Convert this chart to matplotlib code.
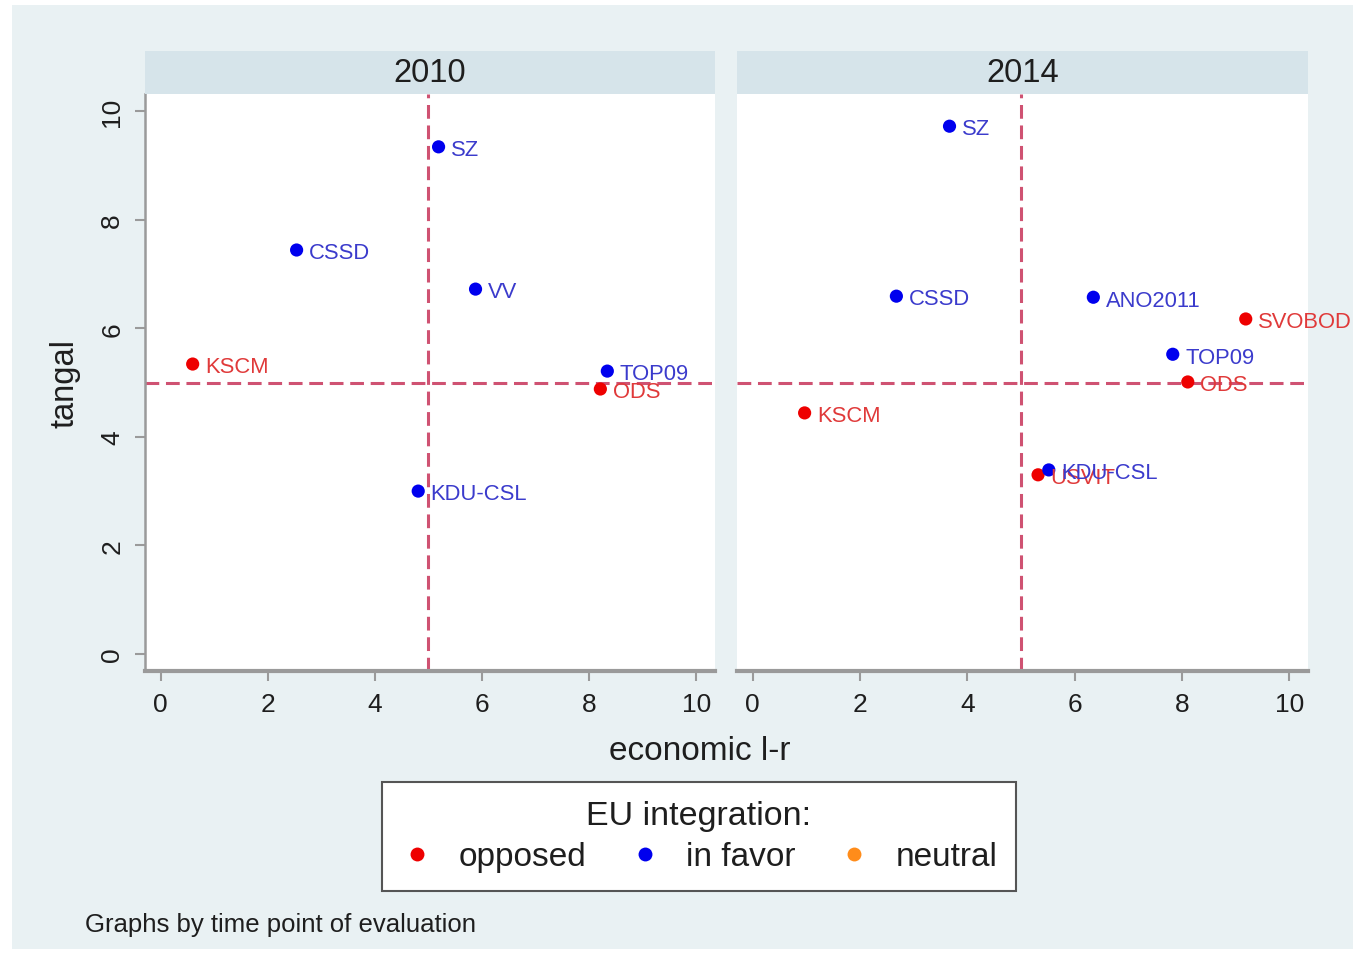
import matplotlib
matplotlib.use("Agg")
import matplotlib.pyplot as plt
from matplotlib.patches import Rectangle
from matplotlib.lines import Line2D

plt.rcParams['font.family'] = ['Liberation Sans', 'DejaVu Sans']

# ---- data ----
years = ['2010', '2014']
parties_2010 = ['KSCM', 'CSSD', 'SZ', 'VV', 'TOP09', 'ODS', 'KDU-CSL']
econ_2010 = [0.60, 2.54, 5.19, 5.88, 8.34, 8.21, 4.81]
tangal_2010 = [5.34, 7.44, 9.34, 6.72, 5.21, 4.88, 3.00]
eu_2010 = ['opposed', 'in favor', 'in favor', 'in favor', 'in favor', 'opposed', 'in favor']

parties_2014 = ['SZ', 'CSSD', 'ANO2011', 'SVOBOD', 'TOP09', 'ODS', 'KSCM', 'USVIT', 'KDU-CSL']
econ_2014 = [3.67, 2.68, 6.35, 9.19, 7.83, 8.11, 0.97, 5.32, 5.52]
tangal_2014 = [9.72, 6.59, 6.57, 6.17, 5.52, 5.01, 4.44, 3.30, 3.39]
eu_2014 = ['in favor', 'in favor', 'in favor', 'opposed', 'in favor', 'opposed', 'opposed', 'opposed', 'in favor']

eu_categories = ['opposed', 'in favor', 'neutral']
x_ticks = [0, 2, 4, 6, 8, 10]
y_ticks = [0, 2, 4, 6, 8, 10]
ref_x = 5
ref_y = 5

# ---- styles ----
marker_colors = {'opposed': '#EE0000', 'in favor': '#0000EE', 'neutral': '#FF8C1A'}
label_colors = {'opposed': '#E03A3A', 'in favor': '#3B3BCC', 'neutral': '#FF8C1A'}
outer_bg = '#E9F1F3'
strip_bg = '#D6E4EA'
axis_gray = '#9A9A9A'
ref_color = '#CF5272'
text_color = '#1E1E1E'

W, H = 1353, 954
fig = plt.figure(figsize=(W / 100, H / 100), dpi=100)
fig.patch.set_facecolor('white')
fig.add_artist(Rectangle((12 / W, 1 - 950 / H), (W - 12) / W, (950 - 6) / H,
                         transform=fig.transFigure, facecolor=outer_bg,
                         edgecolor='none', zorder=-10))

def fx(px):
    return px / W

def fy(py):
    return 1 - py / H

panels = [
    (145, 715, parties_2010, econ_2010, tangal_2010, eu_2010),
    (737, 1308, parties_2014, econ_2014, tangal_2014, eu_2014),
]
top, bottom = 95, 672
strip_top = 52

for i, (x0, x1, names, xs, ys, eus) in enumerate(panels):
    ax = fig.add_axes([fx(x0), fy(bottom), (x1 - x0) / W, (bottom - top) / H])
    ax.set_facecolor('white')
    ax.set_xlim(-0.29, 10.35)
    ax.set_ylim(-0.313, 10.313)
    for s in ['top', 'right']:
        ax.spines[s].set_visible(False)
    ax.spines['bottom'].set_color(axis_gray)
    ax.spines['bottom'].set_linewidth(3)
    ax.set_xticks(x_ticks)
    ax.set_xticklabels([str(t) for t in x_ticks])
    ax.tick_params(axis='x', colors=axis_gray, length=7, width=1.5, pad=8,
                   labelsize=19, labelcolor=text_color)
    if i == 0:
        ax.spines['left'].set_color(axis_gray)
        ax.spines['left'].set_linewidth(1.8)
        ax.set_yticks(y_ticks)
        ax.set_yticklabels([str(t) for t in y_ticks], rotation=90, va='center')
        ax.tick_params(axis='y', colors=axis_gray, length=7, width=1.5, pad=8,
                       labelsize=19, labelcolor=text_color)
        ax.set_ylabel('tangal', fontsize=23.5, color=text_color, labelpad=14)
    else:
        ax.spines['left'].set_visible(False)
        ax.set_yticks([])

    ax.axvline(ref_x, color=ref_color, lw=2.2, dashes=(4.5, 2.2), zorder=1)
    ax.axhline(ref_y, color=ref_color, lw=2.2, dashes=(4.5, 2.2), zorder=1)

    for cat in eu_categories:
        px = [x for x, e in zip(xs, eus) if e == cat]
        py = [y for y, e in zip(ys, eus) if e == cat]
        if px:
            ax.scatter(px, py, s=90, color=marker_colors[cat], zorder=3,
                       edgecolors='none', clip_on=False)
    for n, x, y, e in zip(names, xs, ys, eus):
        ax.annotate(n, (x, y), xytext=(9, -2), textcoords='offset points',
                    va='center', ha='left', fontsize=15.8, color=label_colors[e],
                    zorder=4, annotation_clip=False)

    # strip
    fig.add_artist(Rectangle((fx(x0), fy(top)), (x1 - x0) / W, (top - strip_top) / H,
                             transform=fig.transFigure, facecolor=strip_bg,
                             edgecolor='none', zorder=1))
    fig.text(fx((x0 + x1) / 2), fy((top + strip_top) / 2), years[i],
             ha='center', va='center', fontsize=23.5, color=text_color)

fig.text(fx(700), fy(752), 'economic l-r', ha='center', va='center',
         fontsize=24, color=text_color)

handles = [Line2D([], [], marker='o', linestyle='none', markersize=10,
                  markerfacecolor=marker_colors[c], markeredgecolor='none')
           for c in eu_categories]
leg = fig.legend(handles, eu_categories, loc='center',
                 bbox_to_anchor=(fx(699), fy(837.5)), ncol=3,
                 title='EU integration:', title_fontsize=24.5, fontsize=24,
                 frameon=True, fancybox=False, edgecolor='#555555',
                 framealpha=1.0,
                 handletextpad=0.75, columnspacing=1.25, borderpad=0.55,
                 handlelength=1.0, labelspacing=0.3)
leg.get_frame().set_linewidth(1.5)
leg.get_frame().set_facecolor('white')
for t in leg.get_texts():
    t.set_color(text_color)
leg.get_title().set_color(text_color)

fig.text(fx(85), fy(925), 'Graphs by time point of evaluation', ha='left',
         va='center', fontsize=18.5, color=text_color)

fig.savefig('out.png', dpi=100)
